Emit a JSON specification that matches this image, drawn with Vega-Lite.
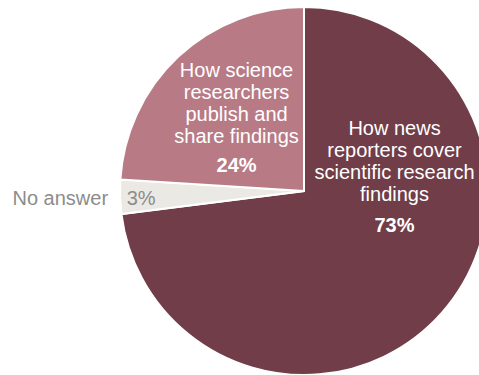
{
  "$schema": "https://vega.github.io/schema/vega-lite/v6.json",
  "width": 608,
  "height": 382,
  "padding": 0,
  "autosize": {"type": "none"},
  "background": "white",
  "config": {"view": {"stroke": null}, "text": {"font": "Liberation Sans", "fontSize": 20}},
  "data": {
    "values": [
      {"key": "news", "order": 1, "pct": 73, "label": "How news\nreporters cover\nscientific research\nfindings", "pctLabel": "73%"},
      {"key": "none", "order": 2, "pct": 3, "label": "No answer", "pctLabel": "3%"},
      {"key": "researchers", "order": 3, "pct": 24, "label": "How science\nresearchers\npublish and\nshare findings", "pctLabel": "24%"}
    ]
  },
  "encoding": {
    "theta": {"field": "pct", "type": "quantitative", "stack": true, "scale": {"domain": [0, 100]}},
    "order": {"field": "order", "type": "quantitative"}
  },
  "layer": [
    {
      "mark": {"type": "arc", "outerRadius": 184, "stroke": "white", "strokeWidth": 2},
      "encoding": {
        "color": {
          "field": "key", "type": "nominal", "legend": null,
          "scale": {"domain": ["news", "none", "researchers"], "range": ["#713D48", "#EBE9E3", "#B87B86"]}
        }
      }
    },
    {
      "mark": {"type": "text", "radius": 110, "dx": 8, "dy": -129, "align": "center", "baseline": "alphabetic", "lineBreak": "\n", "lineHeight": 22, "color": "white"},
      "encoding": {"text": {"condition": {"test": "datum.key === 'news'", "field": "label"}, "value": ""}}
    },
    {
      "mark": {"type": "text", "radius": 110, "dx": 8, "dy": -32, "align": "center", "baseline": "alphabetic", "fontWeight": "bold", "color": "white"},
      "encoding": {"text": {"condition": {"test": "datum.key === 'news'", "field": "pctLabel"}, "value": ""}}
    },
    {
      "mark": {"type": "text", "radius": 100, "dx": 1, "dy": -41, "align": "center", "baseline": "alphabetic", "lineBreak": "\n", "lineHeight": 22, "color": "white"},
      "encoding": {"text": {"condition": {"test": "datum.key === 'researchers'", "field": "label"}, "value": ""}}
    },
    {
      "mark": {"type": "text", "radius": 100, "dx": 1, "dy": 54, "align": "center", "baseline": "alphabetic", "fontWeight": "bold", "color": "white"},
      "encoding": {"text": {"condition": {"test": "datum.key === 'researchers'", "field": "pctLabel"}, "value": ""}}
    },
    {
      "mark": {"type": "text", "radius": 196, "dx": 0, "dy": 8, "align": "right", "baseline": "alphabetic", "color": "#8C8C8C"},
      "encoding": {"text": {"condition": {"test": "datum.key === 'none'", "field": "label"}, "value": ""}}
    },
    {
      "mark": {"type": "text", "radius": 162, "dx": -1, "dy": 9, "align": "center", "baseline": "alphabetic", "color": "#8C8C8C"},
      "encoding": {"text": {"condition": {"test": "datum.key === 'none'", "field": "pctLabel"}, "value": ""}}
    }
  ]
}
